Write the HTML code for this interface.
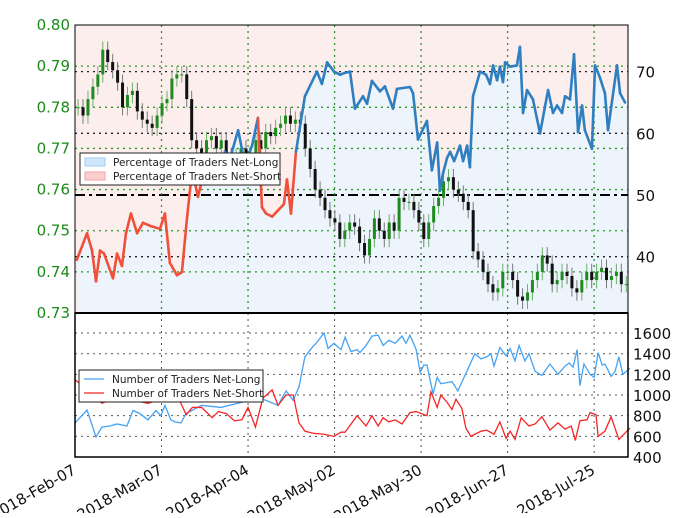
<!DOCTYPE html>
<html><head><meta charset="utf-8"><style>
body{margin:0;background:#fff;}
svg text{font-family:"DejaVu Sans","Liberation Sans",sans-serif;}
</style></head><body>
<svg id="c" width="680" height="513" xmlns="http://www.w3.org/2000/svg"></svg>
<script>
const pctDays=[0.6,3.9,5.5,6.8,8.1,9.4,12.3,13.6,15.2,16.5,18.1,20.1,22,24.3,27.5,29.1,30.7,33,34.6,36.2,37.9,39.8,41.4,44.7,46.3,48.5,50.2,52.8,55,57.3,59.2,60.5,61.8,63.8,65.7,67.6,68.6,69.9,71.5,74.4,78.3,79.9,81.6,83.8,85.8,87.4,89,90.6,93.2,94.5,96.1,98.7,100.3,102.9,104.2,108.4,109.4,111,113.9,115.5,117.2,118.1,119.1,120.4,121.4,122.7,124.6,125.6,126.9,127.8,128.8,131.1,133,134.3,135.3,136.6,137.5,138.5,139.2,140.8,143,144,145,146.3,148.2,150.5,153.1,154.7,156,157.6,158.6,160.2,161.5,162.8,164.1,165,167.3,168.3,169.9,171.5,172.5,175.4,176.4,178];
const pctLong=[39.5,43.8,41,36,41,40.5,36.5,40.5,38.5,43.8,47,43.8,45.5,45,44.5,47,39,37,37.5,46,54,49.7,53,54.5,52,57,56,60.5,55,58,62.5,48,47,46.5,47.5,48.5,52.5,47,57,66,70,68,71.5,70,69.5,69.8,70,64,66,64.8,68.5,66.8,67.6,64,67.2,67.5,66.5,59,62,54,58.5,50.7,53.5,56,57,55.5,58,55.5,58,54.5,66,70,69.5,68,71,68.6,70.8,68.3,71.5,70.8,71,74,63.3,67,65.5,60,67,63.3,64.5,63.3,66,65.5,72.8,60.2,64.5,60.5,57.5,71,69,66.5,60.5,71,66.5,65];
const closes=[0.780,0.778,0.782,0.785,0.788,0.794,0.791,0.789,0.786,0.780,0.783,0.784,0.779,0.777,0.776,0.775,0.778,0.781,0.782,0.787,0.788,0.788,0.782,0.772,0.770,0.768,0.772,0.773,0.770,0.772,0.768,0.767,0.768,0.770,0.766,0.768,0.772,0.770,0.774,0.773,0.775,0.776,0.778,0.776,0.777,0.776,0.770,0.765,0.760,0.758,0.755,0.753,0.752,0.748,0.750,0.752,0.751,0.747,0.744,0.748,0.753,0.750,0.748,0.752,0.750,0.758,0.757,0.757,0.755,0.752,0.748,0.752,0.756,0.758,0.762,0.763,0.760,0.759,0.757,0.755,0.745,0.743,0.740,0.737,0.735,0.736,0.740,0.740,0.738,0.734,0.733,0.735,0.738,0.740,0.744,0.742,0.737,0.738,0.740,0.739,0.736,0.735,0.738,0.740,0.738,0.740,0.741,0.738,0.739,0.740,0.737,0.737];
const longDays=[0,3.9,6.8,8.7,11.3,13.6,16.8,18.8,21,23.6,26.2,27.8,29.1,31,32.4,34.3,35.9,41,47.2,54,60.8,65.7,68.3,70.6,72.5,74.4,77,78,80.6,81.9,83.8,86.1,87.4,89.3,91.3,92.2,94.2,96.1,98.1,99.7,101.6,103.6,105.8,107.1,108.4,110.4,111.7,112.9,113.9,115.9,117.2,118.4,120.4,122,123.9,126.5,129.4,131.4,133.3,134.6,135.6,137.5,139.5,140.8,142.4,143.7,145.6,146.9,148.9,151.1,153.7,156.3,158.6,159.9,161.2,162.5,163.4,164.7,166.7,168,169.3,170.6,171.5,173.5,174.8,176,177.3,179.6];
const longVals=[729,855,594,690,700,720,700,850,820,760,850,800,900,760,740,730,820,900,880,930,960,900,1040,950,1080,1370,1470,1500,1600,1450,1500,1440,1560,1420,1440,1410,1480,1570,1580,1480,1530,1500,1570,1500,1580,1440,1220,1290,1290,1010,1170,1110,1120,1130,1040,1210,1400,1350,1370,1400,1280,1460,1380,1450,1330,1480,1330,1400,1230,1190,1300,1200,1280,1310,1270,1440,1090,1300,1200,1170,1410,1290,1300,1180,1230,1370,1200,1260];
const shortDays=[0,3.9,8.7,13.6,18.8,23.6,29.1,33,36,38,41,44.4,46.4,49,51.6,54,56,58.4,60.8,63.8,65.7,68.3,70.6,72.5,74.4,77,80.6,83.8,86.1,87.4,91.3,94.2,96.1,98.1,99.7,101.6,103.6,105.8,108.4,110.4,113.9,115.2,117.2,118.4,120.4,122,123.3,125.2,126.5,128.1,131.4,133.3,135.6,137.5,139.5,140.8,142.4,144.4,146.9,148.9,151.1,153.7,156.3,158.6,160.6,161.9,163.4,165.7,166.7,168.6,169.3,171.5,173.5,176,179.6];
const shortVals=[1150,1050,920,980,950,920,970,1000,810,880,880,780,840,820,750,760,880,690,970,1050,900,1000,1000,730,650,630,620,600,640,640,800,700,800,700,780,740,760,720,830,840,800,1030,880,1000,930,860,960,870,680,600,650,660,620,740,580,650,570,780,700,720,790,660,730,670,700,560,750,760,830,810,600,650,790,570,680];
const priceTicks=["0.73","0.74","0.75","0.76","0.77","0.78","0.79","0.80"];
const pctTicks=[40,50,60,70];
const countTicks=[400,600,800,1000,1200,1400,1600];
const dateLabels=["2018-Feb-07","2018-Mar-07","2018-Apr-04","2018-May-02","2018-May-30","2018-Jun-27","2018-Jul-25"];
const dateDays=[0,28,56,84,112,140,168];

const NS="http://www.w3.org/2000/svg",svg=document.getElementById('c');
const L=75,R=628,T=25,MID=313,B=457;
const xs=d=>L+d*3.09;
const yP=p=>MID-(p-0.73)*4114;
const yR=v=>195-(v-50)*6.17;
const yC=v=>B-(v-400)*0.1033;
function mk(tag,attrs,name,parent){const e=document.createElementNS(NS,tag);for(const k in attrs)e.setAttribute(k,attrs[k]);


(parent||svg).appendChild(e);return e;}
function txt(x,y,s,name,extra){const t=mk('text',Object.assign({x:x,y:y,'font-size':15},extra||{}),name);t.textContent=s;return t;}
// top panel background
mk('rect',{x:L,y:T,width:R-L,height:MID-T,fill:'#fdeeee'},'net-short-area');
let pts=pctDays.map((d,i)=>xs(d)+','+yR(pctLong[i]));
mk('polygon',{points:L+','+MID+' '+xs(pctDays[0])+','+MID+' '+pts.join(' ')+' '+R+','+yR(pctLong[pctLong.length-1])+' '+R+','+MID,fill:'#edf4fb'},'net-long-area');
// grids
priceTicks.forEach((t,i)=>{const y=yP(+t);if(i>0&&i<7)mk('line',{x1:L,x2:R,y1:y,y2:y,stroke:'#2a9a2a','stroke-dasharray':'2,4','stroke-width':1.3},'price-gridline');
const tx=txt(70,y+5,t,'price-tick-label',{'text-anchor':'end',fill:'#1a8a1a'});});
pctTicks.forEach(v=>{const y=yR(v);mk('line',{x1:L,x2:R,y1:y,y2:y,stroke:v===50?'#000':'#222','stroke-dasharray':v===50?'10,4,3,4':'2,4','stroke-width':v===50?2:1.3},v===50?'fifty-percent-line':'pct-gridline');
txt(636,y+6,String(v),'pct-tick-label',{fill:'#111'});});
dateDays.forEach(d=>{const x=xs(d);if(d>0){mk('line',{x1:x,x2:x,y1:T,y2:MID,stroke:'#2a9a2a','stroke-dasharray':'2,4','stroke-width':1.3},'date-gridline-top');
mk('line',{x1:x,x2:x,y1:MID,y2:B,stroke:'#555','stroke-dasharray':'2,4'},'date-gridline-bottom');}});
// candles
const cstep=179/closes.length;
closes.forEach((c,i)=>{const o=i?closes[i-1]:c;const x=xs(i*cstep+1);const up=c>=o;const col=up?'#1f8a1f':'#111';
mk('line',{x1:x,x2:x,y1:yP(Math.max(o,c)+0.002),y2:yP(Math.min(o,c)-0.002),stroke:up?'#6ab06a':'#777','stroke-width':1},'candle-wick');
mk('rect',{x:x-1.5,y:yP(Math.max(o,c)),width:3,height:Math.max(1,Math.abs(yP(o)-yP(c))),fill:col},'candle-body');});
// pct line
for(let i=1;i<pctDays.length;i++){const red=pctLong[i]<50||pctLong[i-1]<50;
mk('line',{x1:xs(pctDays[i-1]),y1:yR(pctLong[i-1]),x2:xs(pctDays[i]),y2:yR(pctLong[i]),stroke:red?'#f0503a':'#2f7fc0','stroke-width':2.6,'stroke-linecap':'round'},red?'net-short-pct-line':'net-long-pct-line');}
mk('rect',{x:L,y:T,width:R-L,height:MID-T,fill:'none',stroke:'#000','stroke-width':1},'top-panel-frame');
mk('line',{x1:L,x2:R,y1:MID,y2:MID,stroke:'#000','stroke-width':2},'top-panel-bottom-axis');
// bottom panel
countTicks.forEach(v=>{const y=yC(v);if(v>400)mk('line',{x1:L,x2:R,y1:y,y2:y,stroke:'#555','stroke-dasharray':'2,4'},'count-gridline');
txt(633,y+6,String(v),'count-tick-label',{fill:'#111'});});
mk('polyline',{points:longDays.map((d,i)=>xs(d)+','+yC(longVals[i])).join(' '),fill:'none',stroke:'#45a3f5','stroke-width':1.3},'net-long-count-line');
mk('polyline',{points:shortDays.map((d,i)=>xs(d)+','+yC(shortVals[i])).join(' '),fill:'none',stroke:'#f52525','stroke-width':1.3},'net-short-count-line');
mk('rect',{x:L,y:MID,width:R-L,height:B-MID,fill:'none',stroke:'#000','stroke-width':1.5},'bottom-panel-frame');
dateLabels.forEach((s,i)=>{const x=xs(dateDays[i]);txt(x+2,B+16,s,'date-tick-label',{'text-anchor':'end',transform:'rotate(-30 '+(x+2)+' '+(B+16)+')',fill:'#111'});});
// legends
function legend(x,y,w,items,name,thick){const g=mk('g',{},name);
mk('rect',{x:x,y:y,width:w,height:32,fill:'#fff',stroke:'#222','stroke-width':1},name+'-box',g);
items.forEach((it,i)=>{const yy=y+9+i*14;
if(thick)mk('rect',{x:x+5,y:yy-4,width:20,height:8,fill:it[1],stroke:it[2]},'legend-swatch',g);else mk('line',{x1:x+5,x2:x+25,y1:yy,y2:yy,stroke:it[1],'stroke-width':1.3},'legend-swatch',g);
const t=mk('text',{x:x+33,y:yy+4,'font-size':10.5,fill:'#222'},'legend-entry',g);t.textContent=it[0];});}
legend(80,153,200,[["Percentage of Traders Net-Long","#cfe6fb","#9fcdf5"],["Percentage of Traders Net-Short","#fbcfcf","#f5a0a0"]],'top-legend',true);
legend(79,370,184,[["Number of Traders Net-Long","#45a3f5"],["Number of Traders Net-Short","#f52525"]],'bottom-legend',false);
</script>
</body></html>
